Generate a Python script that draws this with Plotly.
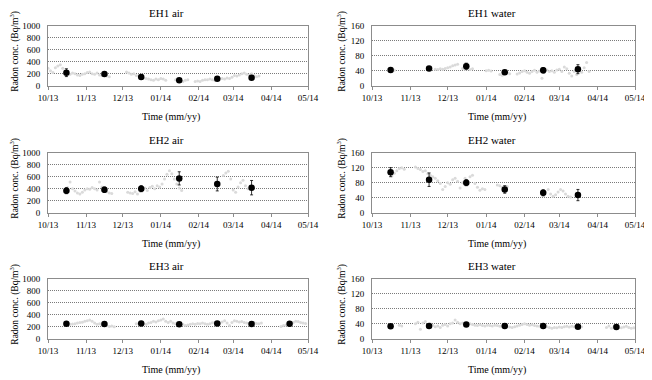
import plotly.graph_objects as go
from plotly.subplots import make_subplots
import pandas as pd

# monthly means (mid-month) with error bars
month_dates = ["2013-10-16", "2013-11-16", "2013-12-16", "2014-01-16",
               "2014-02-16", "2014-03-16", "2014-04-16"]

eh1_air_mean = [217, 194, 144, 89, 117, 133]
eh1_air_err = [65, 20, 30, 30, 20, 25]
eh1_water_mean = [42, 46, 52, 36, 41, 44]
eh1_water_err = [3, 3, 8, 4, 7, 12]
eh2_air_mean = [367, 383, 400, 572, 478, 417]
eh2_air_err = [50, 45, 50, 110, 115, 120]
eh2_water_mean = [108, 88, 80, 62, 53, 47]
eh2_water_err = [12, 18, 8, 10, 8, 15]
eh3_air_mean = [250, 245, 255, 240, 255, 245, 250]
eh3_air_err = [8, 8, 8, 8, 8, 8, 8]
eh3_water_mean = [33, 34, 38, 34, 34, 32, 31]
eh3_water_err = [2, 2, 2, 2, 2, 2, 2]

# continuous readings, one value every 2 days from each segment start
eh1_air_raw = [
    ("2013-10-01", [290, 250, 220, 300, 330, 350, 290, 210, 200, 190, 210, 200, 180,
                    170, 190, 200, 220, 230, 200, 190, 210, 180, 170, 190, 160, 150]),
    ("2013-12-04", [230, 210, 190, 200, 170, 160, 150, 130, 120, 110, 100, 90, 110,
                    100, 120, 110, 90]),
    ("2014-01-13", [100, 90, 80, 70, 90, 100]),
    ("2014-01-29", [70, 80, 70, 90, 100, 100, 110, 100, 90, 100, 110, 120, 110, 130,
                    120, 140, 170, 160, 180, 200, 210, 190, 180, 200, 170, 150, 160]),
]
eh1_water_raw = [
    ("2013-10-15", [42, 40, 41]),
    ("2013-11-21", [44, 43, 45, 44, 46, 48, 50, 53, 55, 57]),
    ("2013-12-13", [46, 44, 45, 43, 45]),
    ("2014-01-01", [40, 41, 39]),
    ("2014-01-12", [30, 28, 33, 35, 32]),
    ("2014-01-26", [31, 34, 38, 40, 36, 33, 38, 41, 36, 39, 20, 35, 42, 38, 40, 36,
                    42, 44, 38, 50, 45, 33, 26, 38, 30, 42, 36, 48, 62, 38]),
]
eh2_air_raw = [
    ("2013-10-15", [370, 420, 510, 400, 360, 330, 310, 340, 380, 400, 390, 420, 400,
                    380, 510, 430, 370, 350, 330, 320]),
    ("2013-12-05", [340, 330, 320, 350, 310, 360, 380, 410, 370, 420, 440, 400, 450,
                    430, 480, 560, 640, 700, 650, 560, 480, 410, 370]),
    ("2014-02-21", [620, 660, 690, 560, 380, 340, 430, 500, 540, 450, 400]),
]
eh2_water_raw = [
    ("2013-10-17", [98, 105, 112, 118, 120, 116]),
    ("2013-11-05", [122, 118, 115, 110, 112, 104, 100, 96, 92, 85, 78, 62, 70, 80, 76,
                    88, 92, 84, 66, 80, 92, 86, 96, 100, 78, 68, 60, 64, 62]),
    ("2014-01-10", [74, 72, 68, 66, 70]),
    ("2014-02-20", [62, 50, 44, 48, 55, 62, 58, 50, 44, 42]),
]
eh3_air_raw = [
    ("2013-10-17", [250, 240, 245, 250, 260, 270, 275, 290, 300, 310, 290, 260, 240,
                    250, 230, 220, 215, 205, 210, 200]),
    ("2013-12-12", [250, 255, 265, 250, 240, 260, 270, 290, 280, 300, 310, 330, 290,
                    270, 290, 260, 250, 240, 230, 240, 220, 230, 240, 250, 240, 255,
                    250, 260, 250, 240, 250, 265, 270, 250, 260, 280, 300, 260, 220,
                    270, 300, 290, 280, 285, 270, 260, 255, 265, 270, 255, 250, 260]),
    ("2014-04-09", [205, 220, 230, 240, 260, 270, 290, 285, 270, 260, 255]),
]
eh3_water_raw = [
    ("2013-10-23", [36, 34]),
    ("2013-11-05", [40, 44, 25, 42, 46, 38, 40, 36, 32, 34, 30, 36, 38, 34, 40, 42, 50,
                    44, 40, 42, 38, 36, 40, 38, 36, 35, 37, 35, 34, 36, 35, 34, 36, 35,
                    33, 34, 32, 33, 31, 30, 32, 34, 36, 38, 40, 38, 36, 37, 35, 34, 33,
                    35, 36, 32, 30, 28, 30, 29, 31, 30, 32, 33, 31, 33, 32, 34, 33, 32]),
    ("2014-04-08", [30, 34, 28, 32, 33, 30, 29, 31, 33, 30, 28, 29]),
]

panels = [
    ("EH1 air", eh1_air_raw, eh1_air_mean, eh1_air_err, 1000, 200),
    ("EH1 water", eh1_water_raw, eh1_water_mean, eh1_water_err, 160, 40),
    ("EH2 air", eh2_air_raw, eh2_air_mean, eh2_air_err, 1000, 200),
    ("EH2 water", eh2_water_raw, eh2_water_mean, eh2_water_err, 160, 40),
    ("EH3 air", eh3_air_raw, eh3_air_mean, eh3_air_err, 1000, 200),
    ("EH3 water", eh3_water_raw, eh3_water_mean, eh3_water_err, 160, 40),
]

# the page body has an 8px margin, so the figure is drawn 8px in from the top-left
OFF = 8
W, H = 652 - OFF, 380 - OFF
col_x = [(48, 308), (372, 635)]
ytitle_x = [15, 342]
row_y = [(25.7, 85.7), (152.7, 212.7), (278.7, 338.7)]
FONT = "Liberation Serif"


def px(x):
    return (x - OFF) / W


def py(y):
    return 1 - (y - OFF) / H


fig = make_subplots(rows=3, cols=2)
annotations = []

for i, (name, raw, mean, err, ymax, dtick) in enumerate(panels):
    r, c = i // 2 + 1, i % 2 + 1
    xs, ys = [], []
    for start, vals in raw:
        xs += list(pd.date_range(start, periods=len(vals), freq="2D"))
        ys += vals
    fig.add_trace(go.Scatter(x=xs, y=ys, mode="markers",
                             marker=dict(size=3, color="#dadada"),
                             showlegend=False), row=r, col=c)
    fig.add_trace(go.Scatter(x=month_dates[:len(mean)], y=mean, mode="markers",
                             marker=dict(size=6.5, color="black"),
                             error_y=dict(type="data", array=err, color="black",
                                          thickness=0.8, width=1.5),
                             showlegend=False), row=r, col=c)

    x0, x1 = col_x[c - 1]
    y0, y1 = row_y[r - 1]
    fig.update_xaxes(domain=[px(x0), px(x1)], row=r, col=c)
    fig.update_yaxes(domain=[py(y1), py(y0)], row=r, col=c)
    fig.update_yaxes(range=[0, ymax], dtick=dtick, row=r, col=c)

    cx = (x0 + x1) / 2 - 12
    common = dict(xref="paper", yref="paper", showarrow=False,
                  xanchor="center", yanchor="middle")
    annotations.append(dict(text=name, x=px(cx), y=py(y0 - 13),
                            font=dict(family=FONT, size=11), **common))
    annotations.append(dict(text="Time (mm/yy)", x=px(cx + 5), y=py(y1 + 31),
                            font=dict(family=FONT, size=10), **common))
    annotations.append(dict(text="Radon conc. (Bq/m<sup>3</sup>)", textangle=-90,
                            x=px(ytitle_x[c - 1]), y=py((y0 + y1) / 2 - 4),
                            font=dict(family=FONT, size=9.5), **common))

fig.update_xaxes(type="date", range=["2013-10-01", "2014-05-01"], dtick="M1",
                 tick0="2013-10-01", tickformat="%m/%y", showgrid=False,
                 showline=True, mirror=True, linecolor="#8c8c8c", linewidth=1,
                 ticks="outside", ticklen=3, tickcolor="#8c8c8c", automargin=False,
                 tickfont=dict(family=FONT, size=9, color="black"))
fig.update_yaxes(showgrid=True, gridcolor="#7a7a7a", griddash="1px,1px", gridwidth=1,
                 zeroline=False, showline=True, mirror=True, linecolor="#8c8c8c",
                 linewidth=1, ticks="", ticklabelstandoff=5, automargin=False,
                 tickfont=dict(family=FONT, size=9, color="black"))

fig.update_layout(width=W, height=H, margin=dict(l=0, r=0, t=0, b=0),
                  paper_bgcolor="white", plot_bgcolor="white",
                  font=dict(family=FONT, color="black"),
                  annotations=annotations, showlegend=False)

fig.write_html("out.html")
